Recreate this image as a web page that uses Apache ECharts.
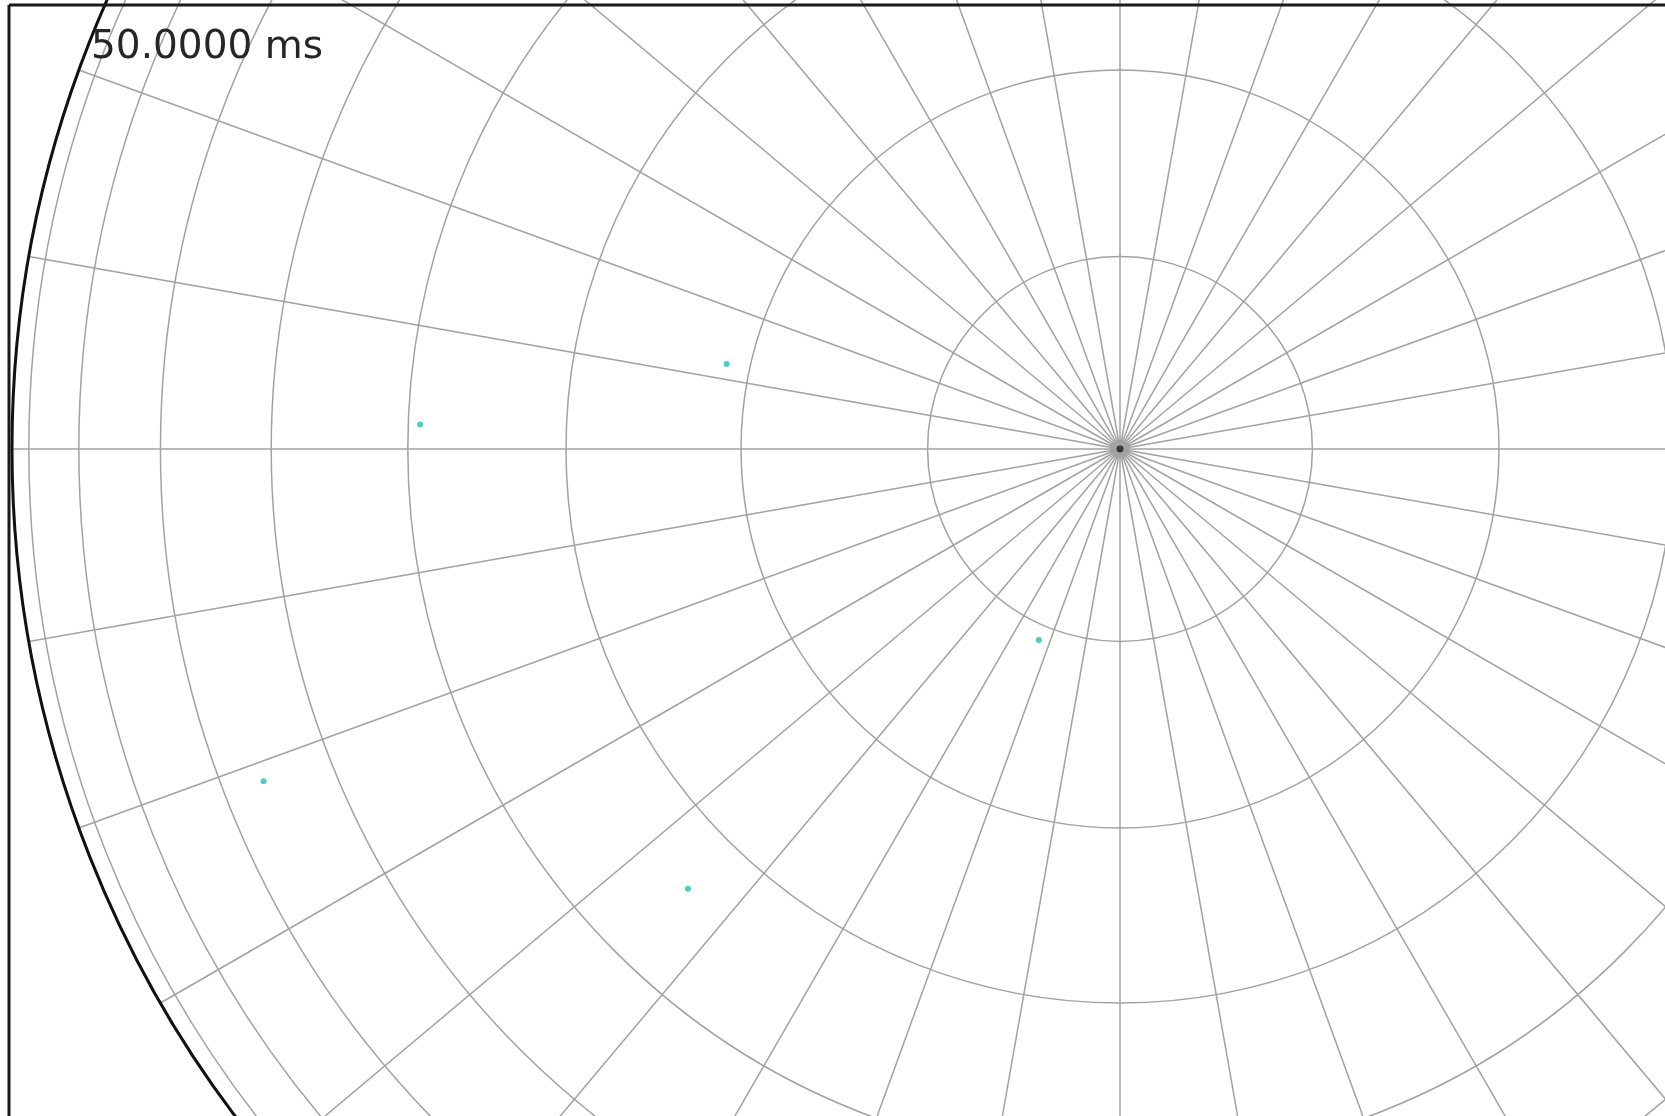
<!DOCTYPE html>
<html>
<head>
<meta charset="utf-8">
<title>Sky plot</title>
<script src="https://cdn.jsdelivr.net/npm/echarts@6/dist/echarts.min.js"></script>
<style>
  html, body { margin: 0; padding: 0; background: #ffffff; }
  #chart { width: 1665px; height: 1116px; }
</style>
</head>
<body>
<div id="chart"></div>
<script>
// Time stamp shown in the corner
const timeLabel = '50.0000 ms';

// Zenith-angle rings (degrees) and azimuth spoke step (degrees)
const zenithRings = [10, 20, 30, 40, 50, 60, 70, 80];
const azimuthStep = 10;

// Detected sources: zenith angle and azimuth (degrees, clockwise from top)
const srcZenith  = [21.3, 39.2, 56.0, 33.8, 10.8];
const srcAzimuth = [282.2, 272.0, 248.8, 224.5, 203.0];

// Zenith marker at the pole
const zenithPoint = [[0, 0]];

// Orthographic projection: radial coordinate is sin(zenith)
const toRad = d => d * Math.PI / 180;
const proj = z => Math.sin(toRad(z));

const ringValues = zenithRings.map(proj);
const points = srcZenith.map((z, i) => [proj(z), srcAzimuth[i]]);

const gridStyle = { color: '#a2a2a2', width: 1.5 };

const chart = echarts.init(document.getElementById('chart'), null, { renderer: 'canvas' });
chart.setOption({
  backgroundColor: '#ffffff',
  animation: false,
  polar: {
    center: [1120, 449],
    radius: 1108
  },
  radiusAxis: {
    type: 'value',
    min: 0,
    max: 1,
    axisLine: { show: false },
    axisLabel: { show: false },
    axisTick: { show: false, customValues: ringValues },
    splitLine: { show: true, lineStyle: gridStyle }
  },
  angleAxis: {
    type: 'value',
    min: 0,
    max: 360,
    interval: azimuthStep,
    startAngle: 90,
    clockwise: true,
    axisLine: { show: true, lineStyle: { color: '#111111', width: 3 } },
    axisTick: { show: false },
    axisLabel: { show: false },
    splitLine: { show: true, lineStyle: gridStyle }
  },
  series: [
    {
      type: 'scatter',
      coordinateSystem: 'polar',
      symbol: 'circle',
      symbolSize: 6,
      itemStyle: { color: '#22c0b8' },
      data: points,
      z: 5
    },
    {
      type: 'scatter',
      coordinateSystem: 'polar',
      symbol: 'circle',
      symbolSize: 7,
      itemStyle: { color: '#1a1a1a' },
      data: zenithPoint,
      z: 4
    }
  ],
  graphic: [
    {
      type: 'line',
      shape: { x1: 9, y1: 5, x2: 1665, y2: 5 },
      style: { stroke: '#1a1a1a', lineWidth: 3 },
      z: 10
    },
    {
      type: 'line',
      shape: { x1: 9, y1: 5, x2: 9, y2: 1116 },
      style: { stroke: '#1a1a1a', lineWidth: 3 },
      z: 10
    },
    {
      type: 'text',
      left: 91,
      top: 28,
      style: {
        text: timeLabel,
        fontFamily: 'DejaVu Sans',
        fontSize: 39,
        fill: '#262626'
      },
      z: 10
    }
  ]
});
</script>
</body>
</html>
